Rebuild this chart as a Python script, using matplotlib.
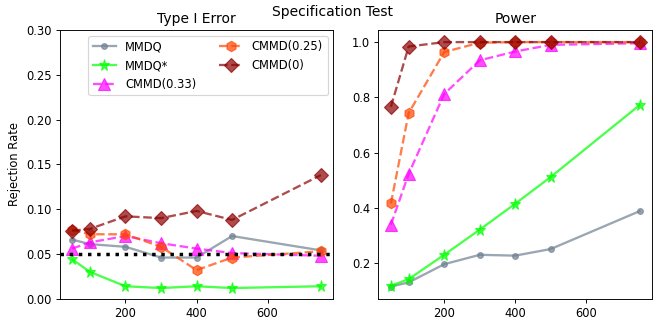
import matplotlib
matplotlib.use("Agg")
import matplotlib.pyplot as plt

n = [50, 100, 200, 300, 400, 500, 750]

# type I error
t1_mmdq = [0.066, 0.061, 0.058, 0.046, 0.046, 0.070, 0.054]
t1_mmdq_star = [0.044, 0.030, 0.014, 0.012, 0.014, 0.012, 0.014]
t1_cmmd033 = [0.056, 0.063, 0.070, 0.062, 0.056, 0.051, 0.048]
t1_cmmd025 = [0.077, 0.072, 0.072, 0.058, 0.032, 0.046, 0.053]
t1_cmmd0 = [0.076, 0.078, 0.092, 0.090, 0.098, 0.088, 0.138]

# power
pw_mmdq = [0.115, 0.130, 0.196, 0.230, 0.227, 0.251, 0.388]
pw_mmdq_star = [0.118, 0.142, 0.230, 0.321, 0.415, 0.512, 0.772]
pw_cmmd033 = [0.339, 0.523, 0.812, 0.934, 0.966, 0.990, 0.996]
pw_cmmd025 = [0.416, 0.743, 0.964, 0.998, 1.0, 1.0, 1.0]
pw_cmmd0 = [0.766, 0.984, 1.0, 1.0, 1.0, 1.0, 1.0]

styles = [
    ("MMDQ", dict(color="slategray", ls="-", marker="o", ms=5)),
    ("MMDQ*", dict(color="lime", ls="-", marker="*", ms=10)),
    ("CMMD(0.33)", dict(color="magenta", ls="--", marker="^", ms=10)),
    ("CMMD(0.25)", dict(color="orangered", ls="--", marker="h", ms=9)),
    ("CMMD(0)", dict(color="darkred", ls="--", marker="D", ms=9)),
]

fig, axes = plt.subplots(1, 2, figsize=(8, 4), dpi=83)
fig.subplots_adjust(left=0.09, right=0.982, bottom=0.1, top=0.91, wspace=0.165)

ax = axes[0]
for (label, st), y in zip(styles, [t1_mmdq, t1_mmdq_star, t1_cmmd033, t1_cmmd025, t1_cmmd0]):
    ax.plot(n, y, lw=2, alpha=0.7, label=label, **st)
ax.axhline(0.05, color="black", ls=":", lw=3)
ax.set_ylim(0, 0.3)
ax.set_ylabel("Rejection Rate")
ax.set_title("Type I Error")
ax.legend(loc="upper right", ncol=2)

ax = axes[1]
for (label, st), y in zip(styles, [pw_mmdq, pw_mmdq_star, pw_cmmd033, pw_cmmd025, pw_cmmd0]):
    ax.plot(n, y, lw=2, alpha=0.7, label=label, **st)
ax.set_title("Power")

fig.suptitle("Specification Test", y=0.985)

fig.savefig("out.png", dpi=83)
